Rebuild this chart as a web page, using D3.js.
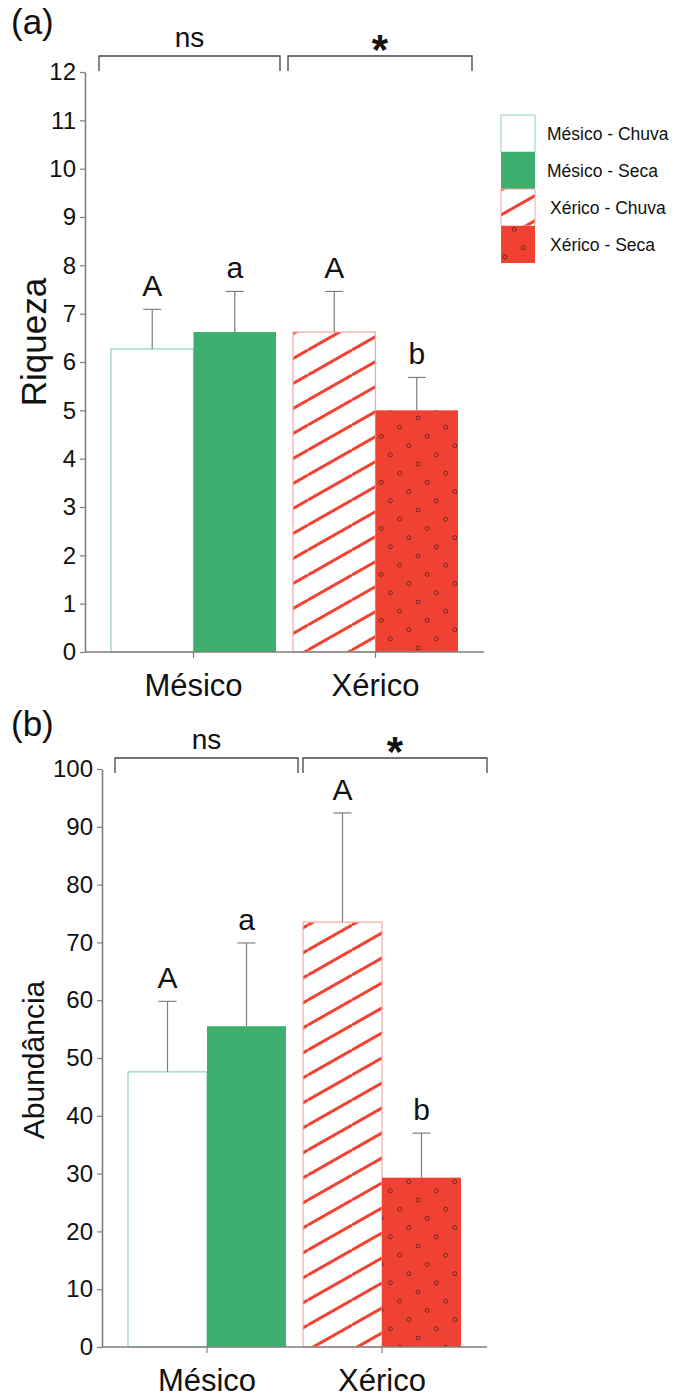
<!DOCTYPE html>
<html>
<head>
<meta charset="utf-8">
<script src="https://cdn.jsdelivr.net/npm/d3@7"></script>
<style>
  html, body { margin: 0; padding: 0; background: #fff; }
  svg { display: block; }
  text { font-family: "Liberation Sans", Arial, sans-serif; fill: #111; }
</style>
</head>
<body>
<svg id="fig" width="676" height="1396"></svg>
<script>
// Sites on the x axis and the season series within each site
const sites = ["Mésico", "Xérico"];
const seasons = ["Chuva", "Seca"];
const seriesNames = ["Mésico - Chuva", "Mésico - Seca", "Xérico - Chuva", "Xérico - Seca"];

// (a) Riqueza: means, error (SE) and letters, order MC, MS, XC, XS
const riqueza = [6.27, 6.62, 6.62, 5.0];
const riquezaErr = [0.82, 0.84, 0.84, 0.68];
const riquezaLetters = ["A", "a", "A", "b"];
const riquezaTicks = [0, 1, 2, 3, 4, 5, 6, 7, 8, 9, 10, 11, 12];

// (b) Abundância
const abundancia = [47.6, 55.5, 73.5, 29.3];
const abundanciaErr = [12.2, 14.4, 18.9, 7.7];
const abundanciaLetters = ["A", "a", "A", "b"];
const abundanciaTicks = [0, 10, 20, 30, 40, 50, 60, 70, 80, 90, 100];

// Between-season comparison within each site
const siteTests = ["ns", "*"];

const svg = d3.select("#fig");
const defs = svg.append("defs");

const GREEN = "#3daf6e";
const RED = "#f04232";
const AXIS = "#7f7f7f";

// diagonal red stripes on white
const stripe = defs.append("pattern")
  .attr("id", "stripes")
  .attr("patternUnits", "userSpaceOnUse")
  .attr("width", 44).attr("height", 25);
stripe.append("rect").attr("width", 44).attr("height", 25).attr("fill", "#fff");
[-25, 0, 25].forEach(o => {
  stripe.append("line")
    .attr("x1", 0).attr("y1", 25 + o)
    .attr("x2", 44).attr("y2", 0 + o)
    .attr("stroke", RED).attr("stroke-width", 3);
});

// red fill with small open circles on an oblique lattice
const dots = defs.append("pattern")
  .attr("id", "dots")
  .attr("patternUnits", "userSpaceOnUse")
  .attr("width", 46).attr("height", 46);
dots.append("rect").attr("width", 46).attr("height", 46).attr("fill", RED);
const lattice = [[0, 0], [27.6, 9.2], [9.2, 18.4], [36.8, 27.6], [18.4, 36.8]];
lattice.forEach(([x, y]) => {
  [[0, 0], [46, 0], [0, 46], [46, 46]].forEach(([dx, dy]) => {
    dots.append("circle")
      .attr("cx", x + 4 + dx).attr("cy", y + 4 + dy).attr("r", 2)
      .attr("fill", "none").attr("stroke", "#5e251e").attr("stroke-width", 0.9);
  });
});

const fills = ["#fff", GREEN, "url(#stripes)", "url(#dots)"];
const strokes = ["#8fd6ae", "none", "#f6a8a2", "none"];

function panel(cfg) {
  const g = svg.append("g");
  const y = d3.scaleLinear().domain(cfg.domain).range([cfg.bottom, cfg.top]);
  const xSite = d3.scaleBand().domain(sites).range([cfg.left + cfg.pad, cfg.left + cfg.pad + cfg.siteW * 2]).paddingInner(0);
  const xSeason = d3.scaleBand().domain(seasons).range([0, cfg.barW * 2]);

  // bars
  cfg.values.forEach((v, i) => {
    const site = sites[Math.floor(i / 2)];
    const season = seasons[i % 2];
    const x0 = xSite(site) + xSeason(season);
    g.append("rect")
      .attr("x", x0).attr("y", y(v))
      .attr("width", xSeason.bandwidth()).attr("height", y(0) - y(v))
      .attr("fill", fills[i])
      .attr("stroke", strokes[i]).attr("stroke-width", 1.2);
    // error bar
    const cx = x0 + xSeason.bandwidth() / 2;
    const top = y(v + cfg.err[i]);
    g.append("line").attr("x1", cx).attr("x2", cx).attr("y1", y(v)).attr("y2", top)
      .attr("stroke", AXIS).attr("stroke-width", 1.2);
    g.append("line").attr("x1", cx - 9).attr("x2", cx + 9).attr("y1", top).attr("y2", top)
      .attr("stroke", AXIS).attr("stroke-width", 1.2);
    g.append("text")
      .attr("x", cx).attr("y", top - 13)
      .attr("text-anchor", "middle")
      .attr("font-size", 30)
      .text(cfg.letters[i]);
  });

  // y axis
  const yAxis = g.append("g")
    .attr("transform", `translate(${cfg.left},0)`)
    .call(d3.axisLeft(y).tickValues(cfg.ticks).tickSize(5).tickPadding(4).tickSizeOuter(0));
  yAxis.select(".domain").attr("stroke", AXIS).attr("stroke-width", 1.6);
  yAxis.selectAll(".tick line").attr("stroke", AXIS).attr("stroke-width", 1.2);
  yAxis.selectAll(".tick text").attr("font-size", 24).attr("fill", "#111")
    .attr("font-family", "Liberation Sans, Arial, sans-serif");

  // x axis
  const xCenters = sites.map(s => xSite(s) + cfg.barW);
  g.append("line")
    .attr("x1", cfg.left).attr("x2", cfg.right)
    .attr("y1", y(0)).attr("y2", y(0))
    .attr("stroke", AXIS).attr("stroke-width", 1.6);
  sites.forEach((s, k) => {
    g.append("line")
      .attr("x1", xCenters[k]).attr("x2", xCenters[k])
      .attr("y1", y(0)).attr("y2", y(0) + 6)
      .attr("stroke", AXIS).attr("stroke-width", 1.2);
    g.append("text")
      .attr("x", xCenters[k]).attr("y", y(0) + 44)
      .attr("text-anchor", "middle").attr("font-size", 31)
      .text(s);
  });

  // y title
  g.append("text")
    .attr("transform", `translate(${cfg.titleX},${cfg.titleY}) rotate(-90)`)
    .attr("text-anchor", "middle")
    .attr("font-size", cfg.titleSize)
    .text(cfg.title);

  // panel tag
  g.append("text").attr("x", 11).attr("y", cfg.tagY).attr("font-size", 35).text(cfg.tag);

  // significance brackets between seasons
  cfg.brackets.forEach((b, k) => {
    g.append("path")
      .attr("d", `M${b[0]},${cfg.brY + 15}V${cfg.brY}H${b[1]}V${cfg.brY + 15}`)
      .attr("fill", "none").attr("stroke", "#444").attr("stroke-width", 1.3);
    const isStar = siteTests[k] === "*";
    g.append("text")
      .attr("x", (b[0] + b[1]) / 2).attr("y", cfg.brY - (isStar ? -8 : 9))
      .attr("text-anchor", "middle")
      .attr("font-size", isStar ? 42 : 28)
      .attr("font-weight", isStar ? "bold" : "normal")
      .text(siteTests[k]);
  });
}

panel({
  values: riqueza, err: riquezaErr, letters: riquezaLetters, ticks: riquezaTicks,
  domain: [0, 12], top: 72, bottom: 652, left: 85, right: 484,
  pad: 26, siteW: 182, barW: 82.5,
  title: "Riqueza", titleX: 46, titleY: 342, titleSize: 35,
  tag: "(a)", tagY: 34,
  brackets: [[99, 280], [288, 472]], brY: 56
});

panel({
  values: abundancia, err: abundanciaErr, letters: abundanciaLetters, ticks: abundanciaTicks,
  domain: [0, 100], top: 769, bottom: 1347, left: 102, right: 487,
  pad: 26, siteW: 175, barW: 79,
  title: "Abundância", titleX: 44, titleY: 1060, titleSize: 30,
  tag: "(b)", tagY: 736,
  brackets: [[115, 298], [303, 487]], brY: 758
});

// legend
const legend = svg.append("g").attr("transform", "translate(501,115)");
seriesNames.forEach((name, i) => {
  legend.append("rect")
    .attr("x", 0).attr("y", i * 37)
    .attr("width", 34).attr("height", 37)
    .attr("fill", fills[i])
    .attr("stroke", strokes[i]).attr("stroke-width", 1);
  legend.append("text")
    .attr("x", i >= 2 ? 49 : 46).attr("y", i * 37 + 25)
    .attr("font-size", 17.5)
    .text(name);
});
</script>
</body>
</html>
